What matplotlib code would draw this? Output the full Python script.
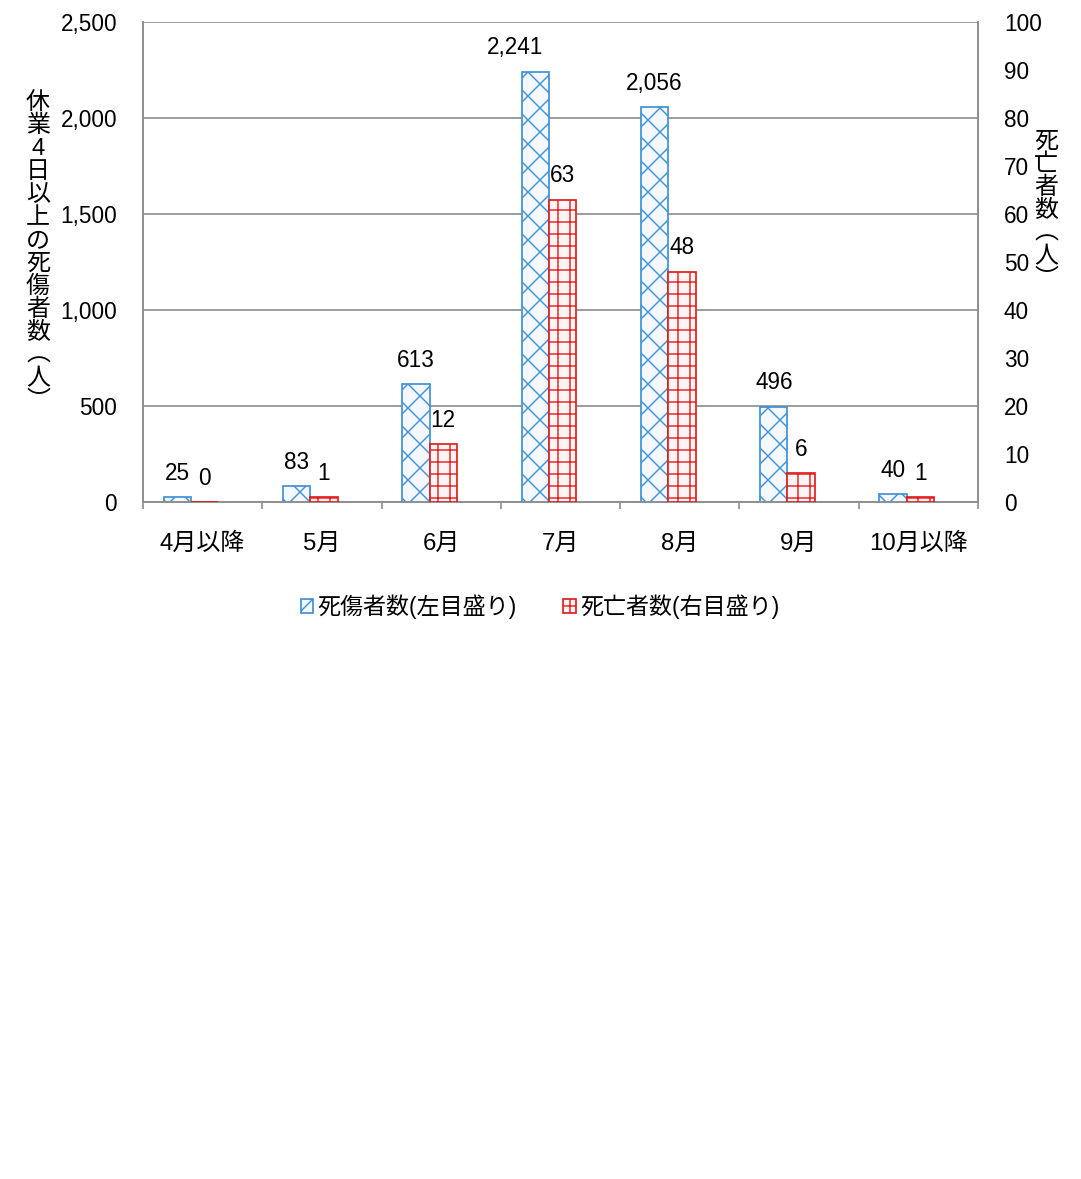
import matplotlib
matplotlib.use("Agg")
import matplotlib.pyplot as plt
from matplotlib.ticker import FixedLocator

plt.rcParams['font.family'] = ['Liberation Sans', 'Noto Sans CJK JP', 'DejaVu Sans']
plt.rcParams['hatch.linewidth'] = 1.4

# data
months = ['4月以降', '5月', '6月', '7月', '8月', '9月', '10月以降']
casualties = [25, 83, 613, 2241, 2056, 496, 40]   # 死傷者数 (left axis)
deaths = [0, 1, 12, 63, 48, 6, 1]                  # 死亡者数 (right axis)
left_ticks = [0, 500, 1000, 1500, 2000, 2500]
right_ticks = list(range(0, 101, 10))

blue = '#3d8fd6'
red = '#e31a1c'
grid_c = '#8f8f8f'
fs = 22.5   # dpi is 72, so points == pixels

fig = plt.figure(figsize=(1081 / 72, 1179 / 72), dpi=72)
ax = fig.add_axes([0.1323, 0.5742, 0.7724, 0.4071])
ax2 = ax.twinx()

x = list(range(len(months)))
w = 0.229
b1 = ax.bar([i - 0.326 for i in x], casualties, width=w, align='edge',
            facecolor='#f4f8fc', edgecolor=blue, hatch='x', linewidth=1.7,
            label='死傷者数(左目盛り)', zorder=3)
b2 = ax2.bar([i - 0.097 for i in x], deaths, width=w, align='edge',
             facecolor='#fdf4f4', edgecolor=red, hatch='+', linewidth=1.7,
             label='死亡者数(右目盛り)', zorder=3)

ax.set_xlim(-0.5, len(months) - 0.5)
ax.set_ylim(0, 2500)
ax2.set_ylim(0, 100)

ax.yaxis.set_major_locator(FixedLocator(left_ticks))
ax.set_yticklabels([f'{v:,}' for v in left_ticks], fontsize=fs)
ax2.yaxis.set_major_locator(FixedLocator(right_ticks))
ax2.set_yticklabels([str(v) for v in right_ticks], fontsize=fs)
ax.tick_params(axis='y', length=0, pad=26)
ax2.tick_params(axis='y', length=0, pad=26)

# category ticks at the boundaries, labels at the centres
ax.xaxis.set_major_locator(FixedLocator([i - 0.5 for i in range(len(months) + 1)]))
ax.xaxis.set_minor_locator(FixedLocator(x))
ax.set_xticklabels([''] * (len(months) + 1))
ax.set_xticklabels(months, minor=True, fontsize=24)
ax.tick_params(axis='x', which='major', length=7, color=grid_c, width=1.7)
ax.tick_params(axis='x', which='minor', length=0, pad=31)

ax.grid(axis='y', color=grid_c, linewidth=1.7, zorder=0)
ax.set_axisbelow(True)
for a in (ax, ax2):
    a.spines['top'].set_visible(False)
    for s in ('left', 'right', 'bottom'):
        a.spines[s].set_color(grid_c)
        a.spines[s].set_linewidth(1.7)

# value labels
for i, v in enumerate(casualties):
    dx = -20 if v == max(casualties) else 0
    ax.annotate(f'{v:,}', (i - 0.326 + w / 2, v), xytext=(dx, 24),
                textcoords='offset points', ha='center', va='center', fontsize=fs)
for i, v in enumerate(deaths):
    ax2.annotate(f'{v:,}', (i - 0.097 + w / 2, v), xytext=(0, 24),
                 textcoords='offset points', ha='center', va='center', fontsize=fs)

# stacked vertical axis titles
def vertical_title(text, xpix, ypix_top, step=23, size=24):
    for k, ch in enumerate(text):
        fig.text(xpix / 1081, 1 - (ypix_top + k * step) / 1179, ch,
                 ha='center', va='center', fontsize=size)

vertical_title('休業4日以上の死傷者数︵人︶', 38, 103)
vertical_title('死亡者数︵人︶', 1046, 142)

fig.legend(handles=[b1, b2], loc='center', bbox_to_anchor=(540 / 1081, 1 - 607 / 1179),
           ncol=2, frameon=False, fontsize=23, handlelength=0.55, handleheight=0.55,
           handletextpad=0.2, columnspacing=2.0)

fig.savefig('out.png', dpi=72, facecolor='white')
